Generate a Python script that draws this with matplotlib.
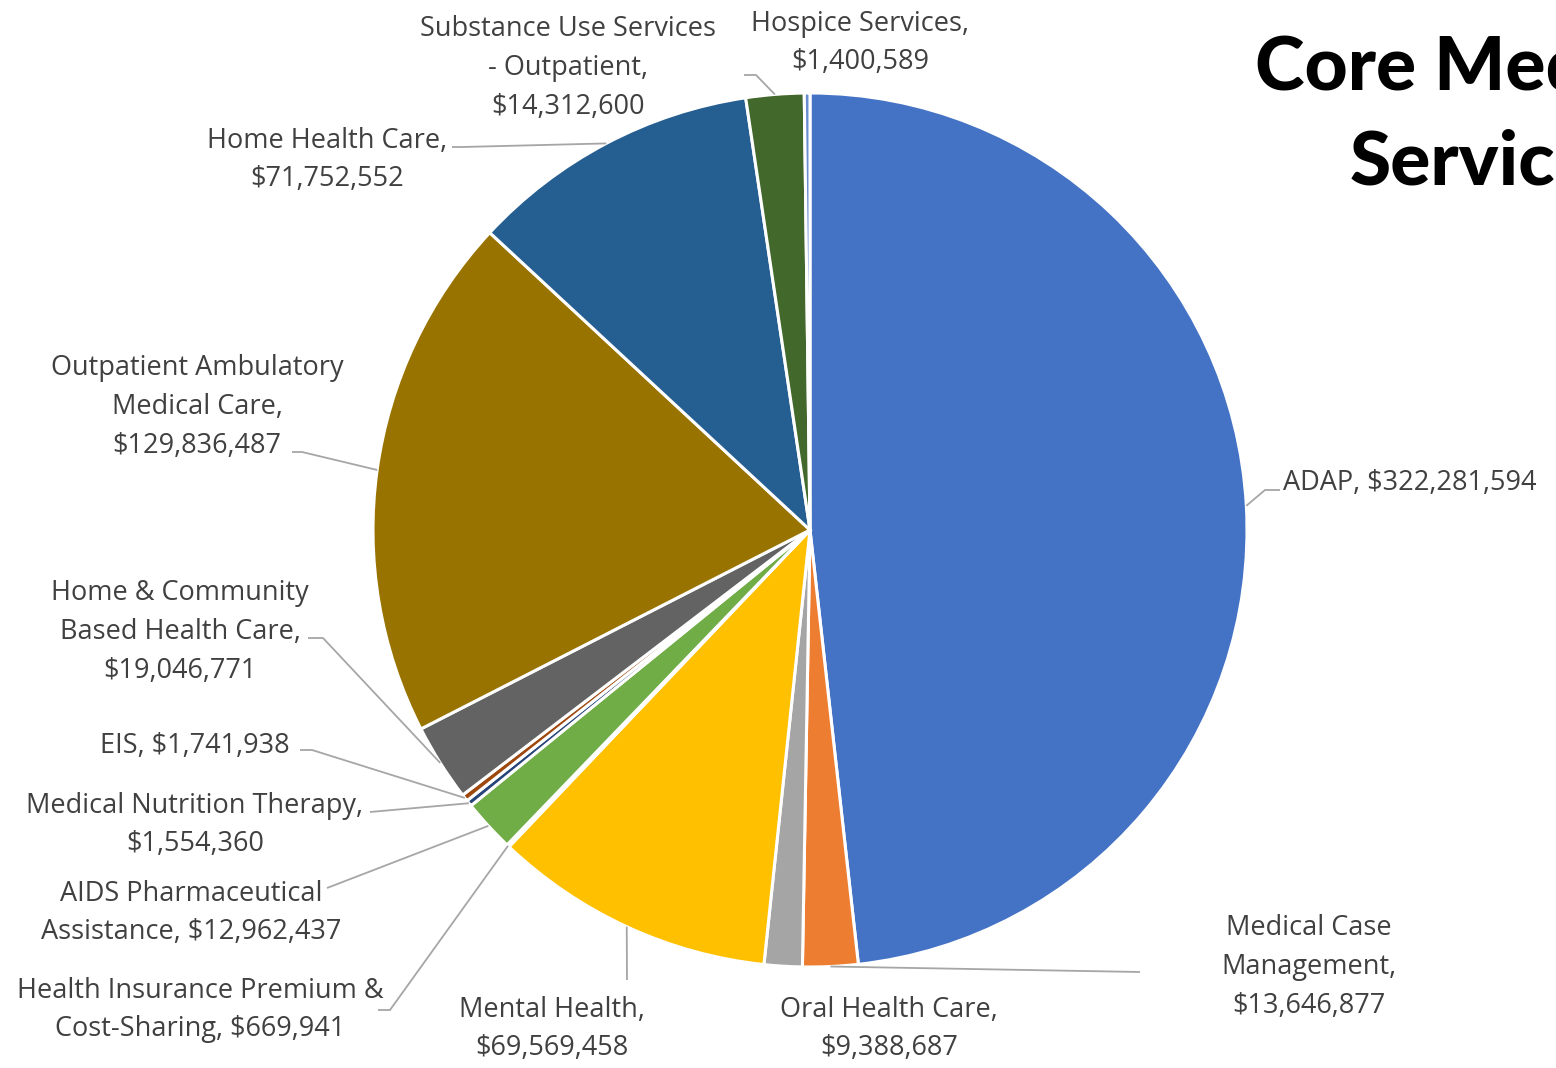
import numpy as np
import matplotlib.pyplot as plt

W, H = 1556, 1068

services = ["ADAP", "Medical Case\nManagement", "Oral Health Care", "Mental Health",
            "Health Insurance Premium &\nCost-Sharing", "AIDS Pharmaceutical\nAssistance",
            "Medical Nutrition Therapy", "EIS", "Home & Community\nBased Health Care",
            "Outpatient Ambulatory\nMedical Care", "Home Health Care",
            "Substance Use Services\n- Outpatient", "Hospice Services"]
amounts = [322281594, 13646877, 9388687, 69569458, 669941, 12962437, 1554360,
           1741938, 19046771, 129836487, 71752552, 14312600, 1400589]
colors = ["#4472C4", "#ED7D31", "#A5A5A5", "#FFC000", "#5B9BD5", "#70AD47", "#264478",
          "#9E480E", "#636363", "#997300", "#255E91", "#43682B", "#698ED0"]

# separator between name and amount in each label
seps = [", ", ",\n", ",\n", ",\n", ", ", ", ", ",\n", ", ", ",\n", ",\n", ",\n",
        ",\n", ",\n"]

# label placement in pixels from the top-left: (x, y, ha) and leader-line bend points
label_pos = [(1283, 483, "left"), (1309, 967, "center"), (889, 1029, "center"),
             (552, 1029, "center"), (200, 1010, "center"), (191, 913, "center"),
             (195, 825, "center"), (195, 746, "center"), (180, 632, "center"),
             (197, 407, "center"), (327, 160, "center"), (568, 68, "center"),
             (860, 43, "center")]
leaders = [[(1265, 490), (1280, 490)], [(1140, 972)], [], [(627, 980)],
           [(390, 1010), (378, 1010)], [(327, 888)], [(370, 812)],
           [(312, 750), (300, 750)], [(323, 638), (308, 638)],
           [(302, 452), (292, 452)], [(462, 147), (452, 147)],
           [(756, 75), (744, 75)], []]

cx, cy, r = 810, H - 530, 437

fig = plt.figure(figsize=(W / 100, H / 100), dpi=100)
ax = fig.add_axes([0, 0, 1, 1])

wedges, _ = ax.pie(amounts, colors=colors, startangle=90, counterclock=False,
                   center=(cx, cy), radius=r,
                   wedgeprops=dict(edgecolor="white", linewidth=2.2))
ax.set_xlim(0, W)
ax.set_ylim(0, H)
ax.set_aspect("equal")
ax.axis("off")

text_color = "#404040"
line_color = "#A6A6A6"

for w, name, amt, sep, (lx, ly, ha), bends in zip(wedges, services, amounts, seps,
                                                  label_pos, leaders):
    label = name + sep + "${:,}".format(amt)
    ax.text(lx, H - ly, label, ha=ha, va="center", ma="center", fontsize=19.5,
            color=text_color, family="Open Sans", linespacing=1.52)
    if bends:
        mid = np.deg2rad((w.theta1 + w.theta2) / 2)
        xs = [cx + r * np.cos(mid)] + [p[0] for p in bends]
        ys = [cy + r * np.sin(mid)] + [H - p[1] for p in bends]
        ax.plot(xs, ys, color=line_color, lw=1.3, solid_capstyle="butt")

# chart title, running off the right edge
ax.text(1255, H - 68, "Core Medical", ha="left", va="center", fontsize=54,
        family="Lato", weight="black", color="black")
ax.text(1350, H - 163, "Services", ha="left", va="center", fontsize=54,
        family="Lato", weight="black", color="black")

fig.savefig("out.png", dpi=100)
